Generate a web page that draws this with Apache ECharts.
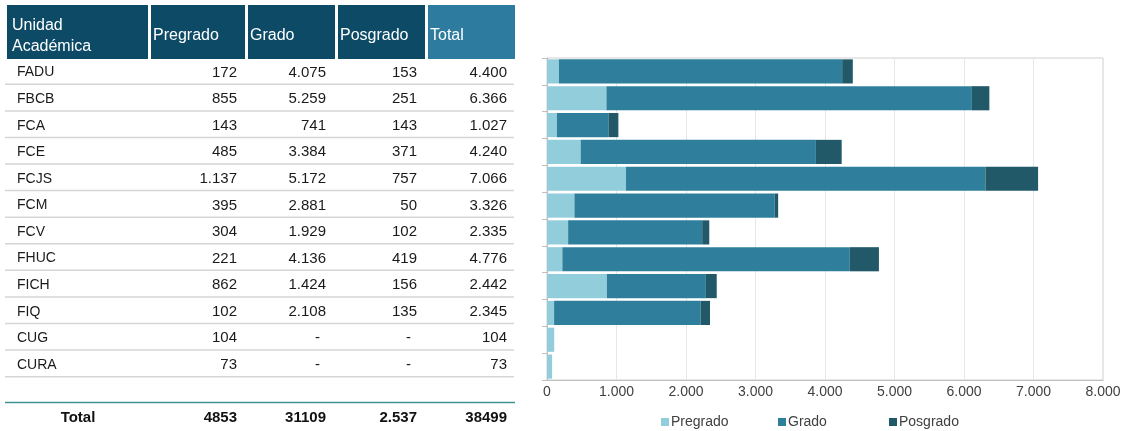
<!DOCTYPE html>
<html><head><meta charset="utf-8">
<script src="https://cdn.jsdelivr.net/npm/echarts@6/dist/echarts.min.js"></script>
<style>html,body{margin:0;padding:0;background:#fff}#c{width:1129px;height:431px}</style>
</head><body><div id="c"></div>
<script>
const categories = ['FADU','FBCB','FCA','FCE','FCJS','FCM','FCV','FHUC','FICH','FIQ','CUG','CURA'];
const pregrado = [172,855,143,485,1137,395,304,221,862,102,104,73];
const grado    = [4075,5259,741,3384,5172,2881,1929,4136,1424,2108,null,null];
const posgrado = [153,251,143,371,757,50,102,419,156,135,null,null];
const total    = [4400,6366,1027,4240,7066,3326,2335,4776,2442,2345,104,73];
const headers  = ['Unidad\nAcadémica','Pregrado','Grado','Posgrado','Total'];
const totalRow = ['Total','4853','31109','2.537','38499'];
const seriesNames = ['Pregrado','Grado','Posgrado'];

const fmt = v => v == null ? '-' : String(v).replace(/\B(?=(\d{3})+(?!\d))/g, '.');

// table layout
const headCells = [[7,148],[151,245],[248,335],[338,425],[428,515]];
const headColors = ['#0c4a66','#0c4a66','#0c4a66','#0c4a66','#2d7b9f'];
const colRight = [0,237,326,417,507];
const rowStep = 26.58, rowCenter0 = 72.5, rowLine0 = 84.3;
const FONT = '"Liberation Sans", Arial, sans-serif';

const graphics = [];
headCells.forEach((c, i) => {
  graphics.push({type:'rect', shape:{x:c[0], y:5, width:c[1]-c[0], height:54}, style:{fill:headColors[i]}});
  graphics.push({type:'text', x: c[0] + (i === 0 ? 5 : 2), y: 36,
    style:{text: headers[i], fill:'#fff', font:'16px ' + FONT, textVerticalAlign:'middle', lineHeight:20.5}});
});
const cols = [pregrado, grado, posgrado, total];
categories.forEach((cat, r) => {
  const yc = rowCenter0 + r * rowStep;
  graphics.push({type:'text', x:17, y:yc, style:{text:cat, fill:'#1a1a1a', font:'14px ' + FONT, textVerticalAlign:'middle'}});
  cols.forEach((arr, j) => {
    const v = arr[r];
    graphics.push({type:'text', x: colRight[j+1] - (v == null ? 6 : 0), y:yc,
      style:{text: fmt(v), fill:'#1a1a1a', font:'15px ' + FONT, textAlign:'right', textVerticalAlign:'middle'}});
  });
  const yl = rowLine0 + r * rowStep;
  graphics.push({type:'line', shape:{x1:5, y1:yl, x2:514, y2:yl}, style:{stroke:'#d6d6d6', lineWidth:1.5}});
});
graphics.push({type:'line', shape:{x1:5, y1:402.5, x2:515, y2:402.5}, style:{stroke:'#3f9494', lineWidth:1.5}});
totalRow.forEach((t, j) => {
  graphics.push({type:'text', x: j === 0 ? 78 : colRight[j], y:417.5,
    style:{text:t, fill:'#111', font:'bold 15px ' + FONT, textAlign: j === 0 ? 'center' : 'right', textVerticalAlign:'middle'}});
});

const colors = ['#92cddc','#2f7f9c','#215968'];
const legendLeft = [656, 773, 884];
const chart = echarts.init(document.getElementById('c'));
chart.setOption({
  animation:false,
  textStyle:{fontFamily:FONT},
  grid:{left:547, right:26, top:58, bottom:51, show:true, borderColor:'#d0d0d0', borderWidth:1},
  legend: seriesNames.map((n, i) => ({data:[n], left:legendLeft[i], top:410, icon:'rect', itemWidth:8, itemHeight:8,
    textStyle:{fontSize:14, color:'#404040', padding:[0,0,0,-3]}})),
  xAxis:{type:'value', min:0, max:8000, interval:1000,
    axisLabel:{formatter:v => fmt(v), color:'#404040', fontSize:14, margin:5},
    axisLine:{show:true, lineStyle:{color:'#bfbfbf'}}, axisTick:{show:false},
    splitLine:{lineStyle:{color:'#e6e6e6'}}},
  yAxis:{type:'category', data:categories, inverse:true,
    axisLabel:{show:false}, axisTick:{show:true, length:5, lineStyle:{color:'#bfbfbf'}},
    axisLine:{lineStyle:{color:'#bfbfbf'}}},
  series: [pregrado, grado, posgrado].map((d, i) => ({
    name:seriesNames[i], type:'bar', stack:'t', data:d, barCategoryGap:'10%',
    itemStyle:{color:colors[i]}
  })),
  graphic: graphics
});
</script></body></html>
